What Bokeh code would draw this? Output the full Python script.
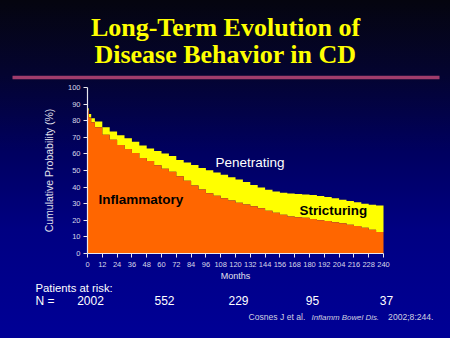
from bokeh.plotting import figure
from bokeh.models import (Range1d, FixedTicker, Label, LabelSet, ColumnDataSource,
                          LinearAxis)
from bokeh.core.properties import value
from bokeh.embed import file_html
from bokeh.resources import INLINE

# ---------------- data ----------------
months = [0, 1, 3, 6, 12, 18, 24, 30, 36, 42, 48, 54, 60, 66, 72, 78, 84, 90, 96,
          102, 108, 114, 120, 126, 132, 138, 144, 150, 156, 162, 168, 174, 180,
          186, 192, 198, 204, 210, 216, 222, 228, 234, 240]
inflammatory = [86, 82, 79, 76, 71.5, 68.5, 65.3, 63, 60.5, 57.5, 55.7, 53.2, 51,
                49.2, 46.5, 43.8, 41, 38.5, 36.3, 34.8, 33.3, 32, 30.6, 29.5, 28.5,
                27.2, 25.8, 24.6, 23.3, 22.3, 21.9, 21.5, 20.8, 20.1, 19.6, 18.8,
                18.2, 17.3, 16.6, 15.5, 14.3, 13, 12]
inflammatory_plus_stricturing = [87.5, 84, 81.5, 79.5, 76, 73.5, 71.2, 69.5, 67.3,
                                 65, 63.2, 61.8, 60.3, 58.8, 56.4, 54.8, 53.3, 51.5,
                                 50.2, 48.8, 47.5, 46, 44.6, 43, 41.2, 39.8, 38.4,
                                 37.3, 36.6, 36.1, 35.8, 35.5, 35.2, 34.6, 34.1,
                                 33.3, 32.4, 31.6, 30.8, 29.9, 29.4, 28.9, 28.2]
x_ticks = list(range(0, 241, 12))
y_ticks = list(range(0, 101, 10))
risk_months = [0, 60, 120, 180, 240]
risk_n = [2002, 552, 229, 95, 37]

title_lines = ["Long-Term Evolution of", "Disease Behavior in CD"]

# ---------------- layout ----------------
W, H = 450, 338
FL, FT, FW, FH = 87, 87, 296, 166      # where the chart area sits on the page
X0, X1, Y0, Y1 = 0, 240, 0, 100
SANS = "Liberation Sans"


def dx(px):
    return X0 + (px - FL) / FW * (X1 - X0)


def dy(py):
    return Y0 + (FT + FH - py) / FH * (Y1 - Y0)


def mid(baseline_px, size):
    # vertical middle of a text line whose baseline is at baseline_px
    return baseline_px - 0.35 * size


p = figure(width=W, height=H, output_backend="svg", toolbar_location=None,
           x_range=Range1d(dx(0), dx(W)), y_range=Range1d(dy(H), dy(0)),
           x_axis_location=None, y_axis_location=None,
           min_border=0)
p.styles = {"background": "linear-gradient(to bottom, #05050f 0%, #040430 22%, "
                          "#000060 45%, #000082 68%, #000096 100%)"}
p.background_fill_alpha = 0
p.border_fill_alpha = 0
p.outline_line_color = None
p.grid.visible = False

src = ColumnDataSource(dict(x=months, infl=inflammatory,
                            tot=inflammatory_plus_stricturing,
                            zero=[0] * len(months)))
p.varea_step(x="x", y1="infl", y2="tot", source=src, step_mode="after",
             fill_color="#ffff00")
p.varea_step(x="x", y1="zero", y2="infl", source=src, step_mode="after",
             fill_color="#ff6600")

axis_col = "#e8e8f0"
xaxis = LinearAxis(fixed_location=Y0, bounds=(X0, X1), ticker=FixedTicker(ticks=x_ticks),
                   axis_label="Months")
yaxis = LinearAxis(fixed_location=X0, bounds=(Y0, Y1), ticker=FixedTicker(ticks=y_ticks),
                   axis_label="Cumulative Probability (%)")
for ax in (xaxis, yaxis):
    ax.axis_line_color = axis_col
    ax.axis_line_width = 1.2
    ax.major_tick_line_color = axis_col
    ax.major_tick_in = 0
    ax.major_tick_out = 4
    ax.minor_tick_line_color = None
    ax.major_label_text_color = "#d8d8e8"
    ax.major_label_text_font = SANS
    ax.major_label_text_font_size = "7.5px"
    ax.axis_label_text_color = "#e0e0ec"
    ax.axis_label_text_font = SANS
    ax.axis_label_text_font_style = "normal"
xaxis.axis_label_text_font_size = "9px"
xaxis.axis_label_standoff = 1
xaxis.major_label_standoff = 4
yaxis.axis_label_text_font_size = "10.5px"
yaxis.axis_label_standoff = 10
yaxis.major_label_standoff = 3
p.add_layout(xaxis, "below")
p.add_layout(yaxis, "left")


def label(px, baseline, text, size, color, style="normal", font=SANS, align="left"):
    p.add_layout(Label(x=dx(px), y=dy(mid(baseline, size)), text=text, text_align=align,
                       text_baseline="middle", text_font=font,
                       text_font_style=style, text_font_size=f"{size}px",
                       text_color=color))


# title
for i, t in enumerate(title_lines):
    label(225, 36 + 27 * i, t, 26, "#ffff00", style="bold",
          font="Liberation Serif", align="center")

# rule
p.segment(x0=[dx(12)], y0=[dy(77)], x1=[dx(439)], y1=[dy(77)],
          line_color="#a03c6c", line_width=3.5)

# area labels
label(98, 204, "Inflammatory", 13.5, "#000000", style="bold")
label(215, 166.7, "Penetrating", 13.5, "#ffffff")
label(299, 215, "Stricturing", 13.4, "#000000", style="bold")

# patients at risk
label(35, 291.5, "Patients at risk:", 11.3, "#ffffff")
label(35, 304.5, "N =", 12, "#ffffff")
risk_src = ColumnDataSource(dict(x=risk_months, y=[dy(mid(304.5, 12))] * len(risk_months),
                                 text=[str(n) for n in risk_n]))
p.add_layout(LabelSet(x="x", y="y", text="text", source=risk_src, x_offset=3,
                      text_align="center", text_baseline="middle",
                      text_font=value(SANS), text_font_size="12px",
                      text_color="#ffffff"))

# citation
cite_col = "#d0d0e0"
label(248, 320, "Cosnes J et al.", 8.6, cite_col)
label(311, 320, "Inflamm Bowel Dis.", 7.9, cite_col, style="italic")
label(433, 320, "2002;8:244.", 8.6, cite_col, align="right")

open("out.html", "w").write(file_html(p, INLINE))
